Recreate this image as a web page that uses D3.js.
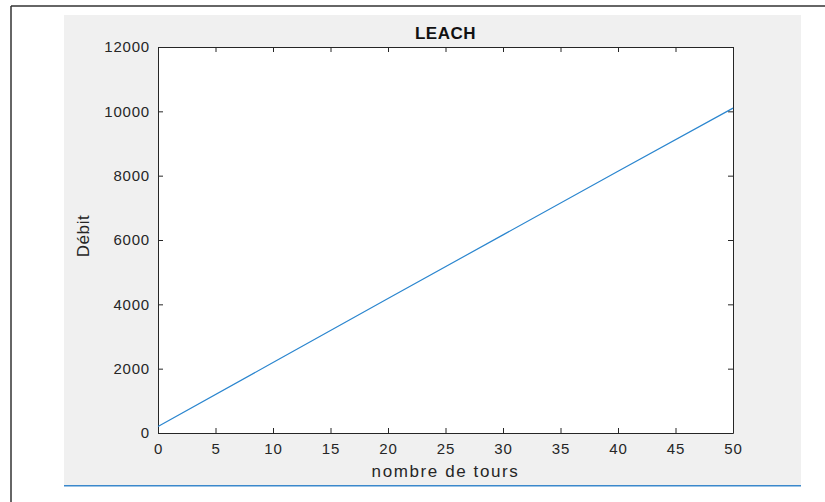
<!DOCTYPE html>
<html><head><meta charset="utf-8">
<script src="https://cdn.jsdelivr.net/npm/d3@7"></script>
<style>body{margin:0;background:#fff}svg{display:block}text{font-family:"Liberation Sans",Arial,sans-serif}</style>
</head><body>
<script>
const title = "LEACH";
const xLabel = "nombre de tours";
const yLabel = "Débit";
const rounds = [0, 10, 20, 30, 40, 50];
const debit = [200, 2190, 4180, 6160, 8140, 10100];
const xTicks = [0, 5, 10, 15, 20, 25, 30, 35, 40, 45, 50];
const yTicks = [0, 2000, 4000, 6000, 8000, 10000, 12000];

const W = 825, H = 502;
const svg = d3.select("body").append("svg").attr("width", W).attr("height", H);

// outer frame
svg.append("line").attr("x1", 11).attr("x2", 11).attr("y1", 6).attr("y2", H).attr("stroke", "#333").attr("stroke-width", 1.5);
svg.append("line").attr("x1", 11).attr("x2", W).attr("y1", 6).attr("y2", 6).attr("stroke", "#333").attr("stroke-width", 1.5);
// figure gray
svg.append("rect").attr("x", 64).attr("y", 15).attr("width", 737).attr("height", 470).attr("fill", "#f0f0f0");
svg.append("line").attr("x1", 64).attr("x2", 801).attr("y1", 485.7).attr("y2", 485.7).attr("stroke", "#3a88cc").attr("stroke-width", 1.5);

const L = 158, T = 47, R = 733, B = 433;
const x = d3.scaleLinear().domain([0, 50]).range([L, R]);
const y = d3.scaleLinear().domain([0, 12000]).range([B, T]);

svg.append("rect").attr("x", L).attr("y", T).attr("width", R - L).attr("height", B - T).attr("fill", "#fff");

const axCol = "#262626";
const fs = 15;
const g = svg.append("g");
const xb = g.append("g").attr("transform", `translate(0,${B})`).call(d3.axisBottom(x).tickValues(xTicks).tickSizeInner(-5).tickSizeOuter(0).tickPadding(10).tickFormat(d3.format("d")));
const xt = g.append("g").attr("transform", `translate(0,${T})`).call(d3.axisTop(x).tickValues(xTicks).tickSizeInner(-5).tickSizeOuter(0).tickFormat(""));
const yl = g.append("g").attr("transform", `translate(${L},0)`).call(d3.axisLeft(y).tickValues(yTicks).tickSizeInner(-5).tickSizeOuter(0).tickPadding(8).tickFormat(d3.format("d")));
const yr = g.append("g").attr("transform", `translate(${R},0)`).call(d3.axisRight(y).tickValues(yTicks).tickSizeInner(-5).tickSizeOuter(0).tickFormat(""));
g.selectAll(".domain").attr("stroke", axCol);
g.selectAll(".tick line").attr("stroke", axCol);
g.selectAll(".tick text").attr("fill", axCol).attr("font-size", fs).attr("letter-spacing", "0.8px").attr("font-family", '"Liberation Sans",Arial,sans-serif');
xb.selectAll(".tick text").attr("dy", "0.71em");

svg.append("path").datum(rounds.map((r, i) => [r, debit[i]]))
  .attr("d", d3.line().x(d => x(d[0])).y(d => y(d[1])))
  .attr("fill", "none").attr("stroke", "#2b86cf").attr("stroke-width", 1.2);

svg.append("text").attr("x", (L + R) / 2).attr("y", 39).attr("text-anchor", "middle")
  .attr("font-size", 17).attr("font-weight", "bold").attr("letter-spacing", "0.5px").attr("fill", "#111").text(title);
svg.append("text").attr("x", (L + R) / 2).attr("y", 477).attr("text-anchor", "middle")
  .attr("font-size", 17).attr("letter-spacing", "1.6px").attr("fill", axCol).text(xLabel);
svg.append("text").attr("transform", `translate(89,${(T + B) / 2 - 4}) rotate(-90)`).attr("text-anchor", "middle")
  .attr("font-size", 17).attr("letter-spacing", "0.6px").attr("fill", axCol).text(yLabel);
</script>
</body></html>
